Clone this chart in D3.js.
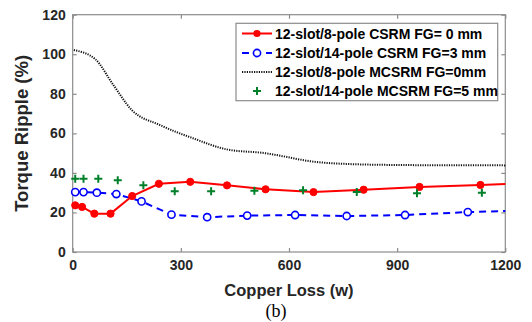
<!DOCTYPE html>
<html><head><meta charset="utf-8">
<script src="https://cdn.jsdelivr.net/npm/d3@7/dist/d3.min.js"></script>
<style>body{margin:0;background:#fff}svg{display:block}</style>
</head><body>
<svg id="c" width="532" height="322"></svg>
<script>
const xTicks = [0, 300, 600, 900, 1200];
const yTicks = [0, 20, 40, 60, 80, 100, 120];
const seriesNames = [
  "12-slot/8-pole CSRM FG= 0 mm",
  "12-slot/14-pole CSRM FG=3 mm",
  "12-slot/8-pole MCSRM FG=0mm",
  "12-slot/14-pole MCSRM FG=5 mm"
];
// red: 12-slot/8-pole CSRM FG=0 (markers at points; last point is line end)
const redX = [7, 26, 60, 105, 165, 239, 326, 428, 535, 668, 807, 962, 1131, 1200];
const redY = [23.6, 22.8, 19.4, 19.4, 28.3, 34.5, 35.5, 33.7, 31.7, 30.3, 31.5, 32.9, 33.9, 34.4];
const redMark = [1,1,1,1,1,1,1,1,1,1,1,1,1,0];
// blue: 12-slot/14-pole CSRM FG=3
const blueX = [7, 30, 67, 121, 191, 274, 373, 484, 617, 760, 922, 1096, 1200];
const blueY = [30.3, 30.3, 30.0, 29.3, 25.6, 18.9, 17.6, 18.4, 18.7, 18.2, 18.7, 20.2, 20.7];
const blueMark = [1,1,1,1,1,1,1,1,1,1,1,1,0];
// black dotted: 12-slot/8-pole MCSRM FG=0
const blackX = [3, 62, 113, 164, 242, 334, 427, 536, 566, 667, 797, 900, 1000, 1100, 1200];
const blackY = [102.1, 97.6, 84.4, 71.8, 64.2, 57.5, 51.9, 49.9, 49.0, 45.7, 44.3, 44.0, 43.9, 43.9, 43.8];
// green plus: 12-slot/14-pole MCSRM FG=5
const greenX = [7, 30, 71, 125, 196, 283, 384, 504, 639, 788, 955, 1135];
const greenY = [37.1, 37.1, 37.1, 36.3, 33.7, 30.7, 30.7, 31.0, 31.2, 30.3, 29.7, 30.0];

const svg = d3.select("#c");
const L = 72.7, R = 505.3, T = 14.7, B = 252;
const x = d3.scaleLinear().domain([0, 1200]).range([L, R]);
const y = d3.scaleLinear().domain([0, 120]).range([B, T]);
const axisCol = "#8c8c8c", textCol = "#262626";
const font = "'Liberation Sans', Arial, sans-serif";

// box
svg.append("rect").attr("x", L).attr("y", T).attr("width", R - L).attr("height", B - T)
  .attr("fill", "none").attr("stroke", axisCol).attr("stroke-width", 1.2);

function styleAxis(g) {
  g.select(".domain").remove();
  g.selectAll(".tick line").attr("stroke", axisCol).attr("stroke-width", 1.2);
  g.selectAll(".tick text").attr("fill", textCol).attr("font-family", font)
    .attr("font-weight", "bold").attr("font-size", 14);
}
svg.append("g").attr("transform", `translate(0,${B})`)
  .call(d3.axisBottom(x).tickValues(xTicks).tickFormat(d3.format("d")).tickSizeInner(-4).tickSizeOuter(0).tickPadding(8))
  .call(styleAxis);
svg.append("g").attr("transform", `translate(0,${T})`)
  .call(d3.axisTop(x).tickValues(xTicks).tickSizeInner(-4).tickSizeOuter(0).tickFormat(""))
  .call(styleAxis);
svg.append("g").attr("transform", `translate(${L},0)`)
  .call(d3.axisLeft(y).tickValues(yTicks).tickFormat(d3.format("d")).tickSizeInner(-4).tickSizeOuter(0).tickPadding(7))
  .call(styleAxis);
svg.append("g").attr("transform", `translate(${R},0)`)
  .call(d3.axisRight(y).tickValues(yTicks).tickSizeInner(-4).tickSizeOuter(0).tickFormat(""))
  .call(styleAxis);

const line = d3.line().x(d => x(d[0])).y(d => y(d[1]));
const plot = svg.append("g");

// black dotted
plot.append("path").datum(blackX.map((v, i) => [v, blackY[i]]))
  .attr("d", d3.line().curve(d3.curveMonotoneX).x(d => x(d[0])).y(d => y(d[1])))
  .attr("fill", "none").attr("stroke", "#111").attr("stroke-width", 2).attr("stroke-dasharray", "1.2,1.2");

// blue dashed
const blueD = blueX.map((v, i) => [v, blueY[i], blueMark[i]]);
plot.append("path").datum(blueD).attr("d", line)
  .attr("fill", "none").attr("stroke", "#0000ff").attr("stroke-width", 2).attr("stroke-dasharray", "7,5");
plot.selectAll(".bm").data(blueD.filter(d => d[2])).enter().append("circle")
  .attr("cx", d => x(d[0])).attr("cy", d => y(d[1])).attr("r", 3.6)
  .attr("fill", "#fff").attr("stroke", "#0000ff").attr("stroke-width", 1.6);

// red
const redD = redX.map((v, i) => [v, redY[i], redMark[i]]);
plot.append("path").datum(redD).attr("d", line)
  .attr("fill", "none").attr("stroke", "#ff0000").attr("stroke-width", 2);
plot.selectAll(".rm").data(redD.filter(d => d[2])).enter().append("circle")
  .attr("cx", d => x(d[0])).attr("cy", d => y(d[1])).attr("r", 3.6)
  .attr("fill", "#ff0000").attr("stroke", "#ff0000").attr("stroke-width", 1);

// green plus
const plus = (g, cx, cy) => {
  g.append("path").attr("d", `M${cx - 4},${cy}H${cx + 4}M${cx},${cy - 4}V${cy + 4}`)
    .attr("stroke", "#00802b").attr("stroke-width", 2).attr("fill", "none");
};
greenX.forEach((v, i) => plus(plot, x(v), y(greenY[i])));

// legend
const lg = svg.append("g");
lg.append("rect").attr("x", 236).attr("y", 23.3).attr("width", 261.7).attr("height", 77.4)
  .attr("fill", "#fff").attr("stroke", axisCol).attr("stroke-width", 1.2);
const rowsY = [33.5, 53, 72, 91];
const lx1 = 242, lx2 = 272, lmx = 257;
// red
lg.append("line").attr("x1", lx1).attr("x2", lx2).attr("y1", rowsY[0]).attr("y2", rowsY[0])
  .attr("stroke", "#ff0000").attr("stroke-width", 2);
lg.append("circle").attr("cx", lmx).attr("cy", rowsY[0]).attr("r", 3.6).attr("fill", "#ff0000");
// blue
lg.append("line").attr("x1", lx1).attr("x2", lx2).attr("y1", rowsY[1]).attr("y2", rowsY[1])
  .attr("stroke", "#0000ff").attr("stroke-width", 2).attr("stroke-dasharray", "7,5");
lg.append("circle").attr("cx", lmx).attr("cy", rowsY[1]).attr("r", 3.6)
  .attr("fill", "#fff").attr("stroke", "#0000ff").attr("stroke-width", 1.6);
// black
lg.append("line").attr("x1", lx1).attr("x2", lx2).attr("y1", rowsY[2]).attr("y2", rowsY[2])
  .attr("stroke", "#111").attr("stroke-width", 2).attr("stroke-dasharray", "1.2,1.2");
// green
plus(lg, lmx, rowsY[3]);
lg.selectAll(".lt").data(seriesNames).enter().append("text")
  .attr("x", 275).attr("y", (d, i) => rowsY[i]).attr("dy", "0.36em")
  .attr("font-family", font).attr("font-weight", "bold").attr("font-size", 14)
  .attr("fill", "#000").text(d => d);

// axis titles
svg.append("text").attr("x", (L + R) / 2).attr("y", 296).attr("text-anchor", "middle")
  .attr("font-family", font).attr("font-weight", "bold").attr("font-size", 16.5)
  .attr("fill", textCol).text("Copper Loss (w)");
svg.append("text").attr("transform", `translate(28,${(T + B) / 2}) rotate(-90)`)
  .attr("text-anchor", "middle")
  .attr("font-family", font).attr("font-weight", "bold").attr("font-size", 18.5)
  .attr("fill", textCol).text("Torque Ripple (%)");
svg.append("text").attr("x", 276).attr("y", 317).attr("text-anchor", "middle")
  .attr("font-family", "'Liberation Serif', 'Times New Roman', serif").attr("font-size", 18)
  .attr("fill", "#000").text("(b)");
</script>
</body></html>
